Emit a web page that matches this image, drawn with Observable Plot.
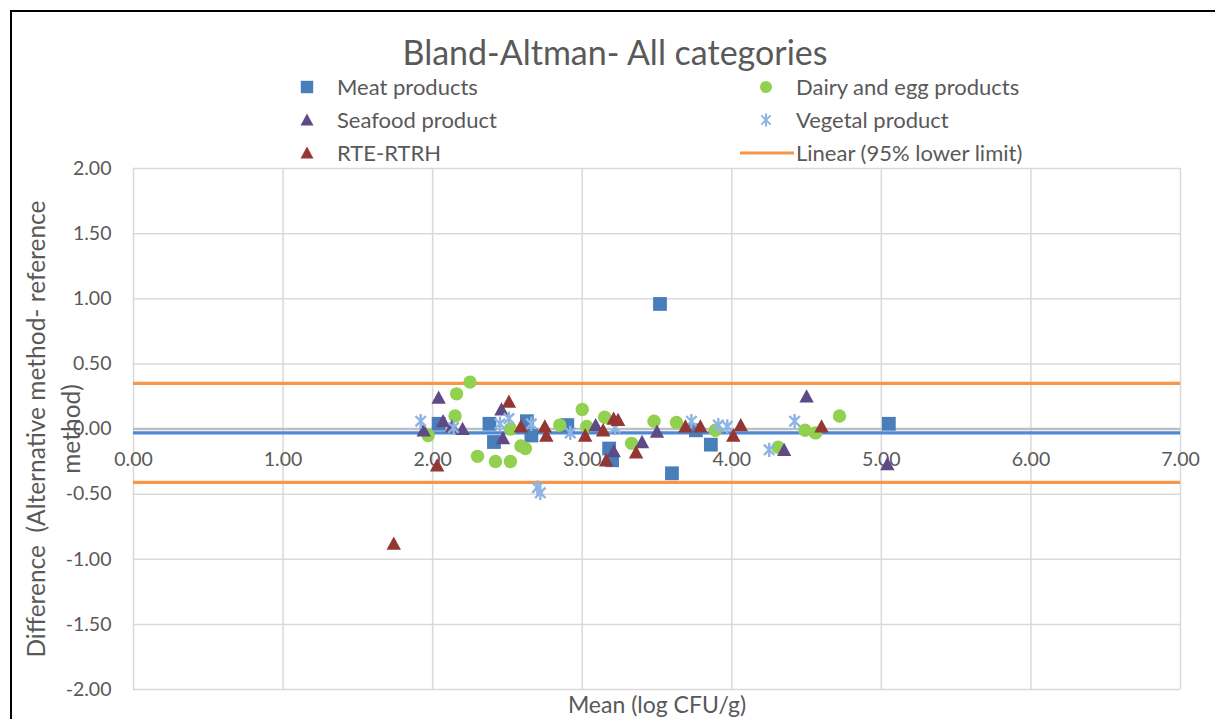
<!DOCTYPE html>
<html><head><meta charset="utf-8">
<script src="https://cdn.jsdelivr.net/npm/d3@7"></script>
<script src="https://cdn.jsdelivr.net/npm/@observablehq/plot@0.6"></script>
<style>
body{margin:0;background:#fff;font-family:Lato,"Open Sans",sans-serif;color:#595959;}
#wrap{position:relative;width:1215px;height:719px;overflow:hidden;}
#frame{position:absolute;left:10px;top:10px;width:1300px;height:800px;border-left:2px solid #000;border-top:2px solid #000;pointer-events:none;z-index:5;}
#title{position:absolute;left:0;width:1230px;top:31px;text-align:center;font-size:34px;line-height:42px;}
.leg{position:absolute;font-size:22px;line-height:26px;white-space:nowrap;}
.legm{position:absolute;}
#chart{position:absolute;left:0;top:160px;}
</style></head>
<body>
<div id="wrap">
  <div id="frame"></div>
  <div id="title">Bland-Altman- All categories</div>
  <div id="legend"></div>
  <div id="chart"></div>
</div>
<script>
// ---- data ----
const seriesNames = ["Meat products", "Dairy and egg products", "Seafood product", "Vegetal product", "RTE-RTRH"];
const seriesColors = ["#4a7ebb", "#92d050", "#5e4a84", "#8db4e2", "#943634"];

const meatMean = [2.04, 2.38, 2.41, 2.63, 2.66, 2.90, 3.18, 3.20, 3.52, 3.60, 3.76, 3.86, 5.05];
const meatDiff = [0.04, 0.04, -0.10, 0.06, -0.05, 0.03, -0.15, -0.24, 0.96, -0.34, -0.01, -0.12, 0.04];

const dairyMean = [1.97, 2.15, 2.16, 2.25, 2.30, 2.42, 2.52, 2.52, 2.59, 2.62, 2.85, 3.00, 3.03, 3.15, 3.33, 3.48, 3.63, 3.89, 4.31, 4.49, 4.56, 4.72];
const dairyDiff = [-0.05, 0.10, 0.27, 0.36, -0.21, -0.25, -0.25, 0.00, -0.13, -0.15, 0.03, 0.15, 0.02, 0.09, -0.11, 0.06, 0.05, -0.01, -0.14, -0.01, -0.03, 0.10];

const seafoodMean = [1.94, 2.04, 2.07, 2.13, 2.20, 2.46, 2.47, 3.09, 3.21, 3.40, 3.50, 4.35, 4.50, 5.04];
const seafoodDiff = [-0.01, 0.24, 0.06, 0.02, 0.00, 0.15, -0.07, 0.03, -0.17, -0.10, -0.02, -0.16, 0.25, -0.27];

const vegetalMean = [1.92, 2.14, 2.45, 2.51, 2.66, 2.70, 2.72, 2.92, 3.22, 3.73, 3.91, 3.97, 4.25, 4.42];
const vegetalDiff = [0.06, 0.01, 0.04, 0.08, 0.04, -0.45, -0.49, -0.03, 0.01, 0.06, 0.03, 0.02, -0.16, 0.06];

const rteMean = [1.74, 2.03, 2.51, 2.59, 2.75, 2.76, 3.02, 3.14, 3.16, 3.21, 3.24, 3.36, 3.69, 3.79, 4.01, 4.06, 4.60];
const rteDiff = [-0.88, -0.28, 0.21, 0.02, 0.02, -0.05, -0.05, -0.01, -0.24, 0.08, 0.07, -0.18, 0.02, 0.02, -0.05, 0.03, 0.02];

const meanDiff = -0.03;
const limits = [0.35, -0.41];
const xTicks = [0, 1, 2, 3, 4, 5, 6, 7];
const yTicks = [-2, -1.5, -1, -0.5, 0, 0.5, 1, 1.5, 2];
const xTitle = "Mean (log CFU/g)";
const yTitle = "Difference  (Alternative method- reference\nmethod)";
const limitLegend = "Linear (95% lower limit)";

// ---- symbols ----
const rOf = size => Math.sqrt(size / Math.PI);
const squareSym = {draw(c, s){ const r = rOf(s); c.rect(-r, -r, 2*r, 2*r); }};
const circleSym = {draw(c, s){ const r = rOf(s); c.moveTo(r, 0); c.arc(0, 0, r, 0, 2*Math.PI); }};
const triSym = {draw(c, s){ const r = rOf(s); c.moveTo(0, -r); c.lineTo(r, 0.85*r); c.lineTo(-r, 0.85*r); c.closePath(); }};
const starSym = {draw(c, s){ const r = rOf(s); const d = 0.72*r;
  c.moveTo(0, -r); c.lineTo(0, r); c.moveTo(-d, -d); c.lineTo(d, d); c.moveTo(-d, d); c.lineTo(d, -d); }};
const symbols = [squareSym, circleSym, triSym, starSym, triSym];
const radii = [6.9, 6.7, 7.2, 7.2, 7.2];
const filled = [true, true, true, false, true];

const seriesData = [
  [meatMean, meatDiff], [dairyMean, dairyDiff], [seafoodMean, seafoodDiff],
  [vegetalMean, vegetalDiff], [rteMean, rteDiff]
];
const rows = seriesData.flatMap(([xs, ys], k) => xs.map((m, i) => ({series: seriesNames[k], mean: m, diff: ys[i]})));

const fmt = d => d.toFixed(2);

const dotMarks = seriesNames.map((name, k) => Plot.dot(rows.filter(d => d.series === name), {
  x: "mean", y: "diff", symbol: symbols[k], r: radii[k],
  fill: filled[k] ? seriesColors[k] : "none",
  stroke: filled[k] ? "none" : seriesColors[k],
  strokeWidth: filled[k] ? 0 : 2.4
}));

const chart = Plot.plot({
  width: 1215, height: 559,
  marginLeft: 133, marginRight: 35, marginTop: 8, marginBottom: 30,
  x: {domain: [0, 7], axis: null},
  y: {domain: [-2, 2], axis: null},
  style: {fontFamily: "Lato, 'Open Sans', sans-serif", fontSize: "19px", color: "#595959", background: "transparent", overflow: "visible"},
  marks: [
    Plot.ruleX(xTicks, {x: d => d, stroke: "#d9d9d9", strokeWidth: 1.5, strokeOpacity: 1}),
    Plot.ruleY(yTicks, {y: d => d, stroke: "#d9d9d9", strokeWidth: 1.5, strokeOpacity: 1}),
    Plot.ruleY([0], {y: d => d, stroke: "#bfbfbf", strokeWidth: 2.5, strokeOpacity: 1}),
    Plot.ruleY([meanDiff], {y: d => d, stroke: "#4f88d6", strokeWidth: 3.2, strokeOpacity: 1}),
    Plot.ruleY(limits, {y: d => d, stroke: "#f79646", strokeWidth: 3.2, strokeOpacity: 1}),
    Plot.text(yTicks, {y: d => d, frameAnchor: "left", textAnchor: "end", dx: -22, text: fmt, fill: "#595959", fontSize: 19.5}),
    Plot.text(xTicks, {x: d => d, y: () => 0, dy: 31, text: fmt, fill: "#595959", fontSize: 19.5}),
    ...dotMarks,
    Plot.text([xTitle], {frameAnchor: "bottom", dy: 16, lineAnchor: "middle", textAnchor: "middle", fill: "#595959", fontSize: 23}),
    Plot.text([yTitle], {frameAnchor: "left", rotate: -90, dx: -82, textAnchor: "middle", lineAnchor: "middle", lineHeight: 1.42, fill: "#595959", fontSize: 24.5})
  ]
});
document.getElementById("chart").appendChild(chart);

// ---- legend (HTML above the chart) ----
const legend = document.getElementById("legend");
const legPos = [[307, 87], [766, 87], [307, 120], [766, 120], [307, 153]];
const ns = "http://www.w3.org/2000/svg";
seriesNames.forEach((name, k) => {
  const [cx, cy] = legPos[k];
  const svg = document.createElementNS(ns, "svg");
  svg.setAttribute("width", 20); svg.setAttribute("height", 20);
  svg.setAttribute("class", "legm");
  svg.style.left = (cx - 10) + "px"; svg.style.top = (cy - 10) + "px";
  const p = document.createElementNS(ns, "path");
  const path = d3.path();
  const r = radii[k] * 0.9;
  symbols[k].draw(path, Math.PI * r * r);
  p.setAttribute("d", path.toString());
  p.setAttribute("transform", "translate(10,10)");
  if (filled[k]) p.setAttribute("fill", seriesColors[k]);
  else { p.setAttribute("fill", "none"); p.setAttribute("stroke", seriesColors[k]); p.setAttribute("stroke-width", 2); }
  svg.appendChild(p);
  legend.appendChild(svg);
  const t = document.createElement("div");
  t.className = "leg"; t.textContent = name;
  t.style.left = (cx + 30) + "px"; t.style.top = (cy - 13) + "px";
  legend.appendChild(t);
});
// limit line legend
{
  const svg = document.createElementNS(ns, "svg");
  svg.setAttribute("width", 56); svg.setAttribute("height", 10);
  svg.setAttribute("class", "legm");
  svg.style.left = "739px"; svg.style.top = "148px";
  const l = document.createElementNS(ns, "line");
  l.setAttribute("x1", 1); l.setAttribute("x2", 55); l.setAttribute("y1", 5); l.setAttribute("y2", 5);
  l.setAttribute("stroke", "#f79646"); l.setAttribute("stroke-width", 3.2);
  svg.appendChild(l); legend.appendChild(svg);
  const t = document.createElement("div");
  t.className = "leg"; t.textContent = limitLegend;
  t.style.left = "796px"; t.style.top = "140px";
  legend.appendChild(t);
}
</script>
</body></html>
